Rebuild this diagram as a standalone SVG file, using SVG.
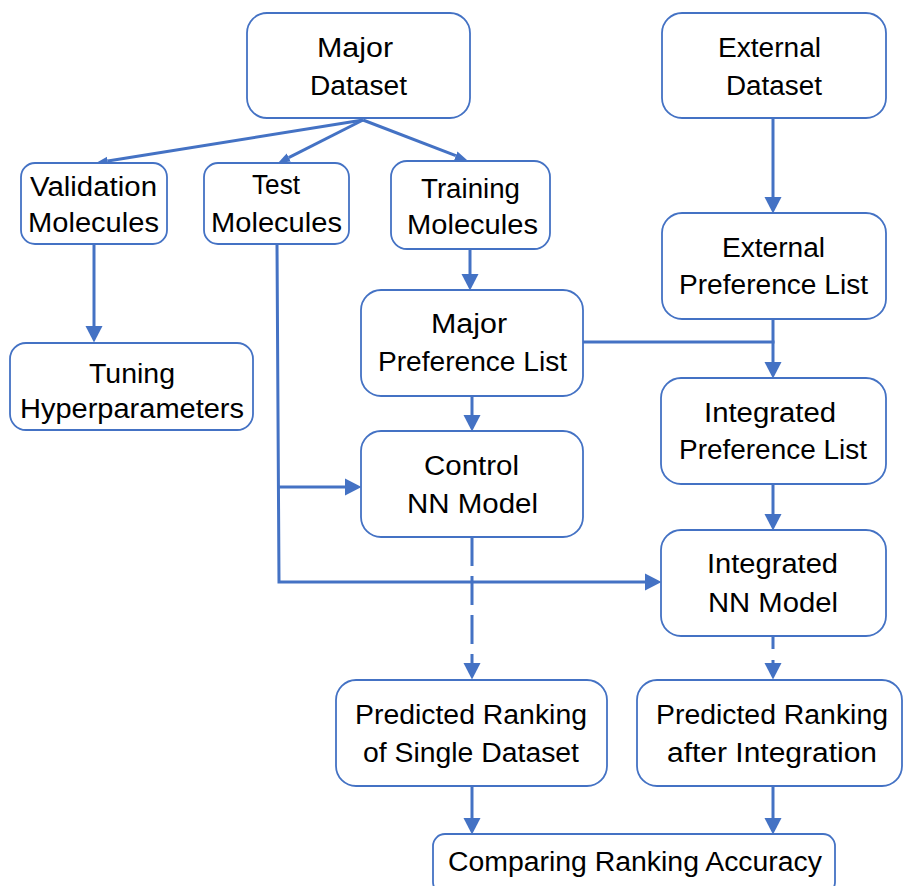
<svg xmlns="http://www.w3.org/2000/svg" width="904" height="886" viewBox="0 0 904 886">
  <style>
    .box { fill: #ffffff; stroke: #4472C4; stroke-width: 1.8; }
    .lbl { font-family: "Liberation Sans", Arial, sans-serif; font-size: 27px; fill: #000000; text-anchor: middle; }
    .wire { fill: none; stroke: #4472C4; stroke-width: 3; }
    .dash1 { stroke-dasharray: 29 10; }
    .dash2 { stroke-dasharray: 13 11; }
  </style>
  <defs>
    <marker id="arrow" markerUnits="userSpaceOnUse" markerWidth="18" markerHeight="20" viewBox="0 -10 18 20" refX="0" refY="0" orient="auto">
      <path d="M0,-8.5 L16.5,0 L0,8.5 Z" fill="#4472C4"/>
    </marker>
    <marker id="arrowSmall" markerUnits="userSpaceOnUse" markerWidth="14" markerHeight="12" viewBox="0 -6 14 12" refX="0" refY="0" orient="auto">
      <path d="M0,-4.5 L12,0 L0,4.5 Z" fill="#4472C4"/>
    </marker>
  </defs>

  <rect width="904" height="886" fill="#ffffff"/>

  <!-- connectors -->
  <g id="connectors">
    <!-- split of the major dataset -->
    <line class="wire" x1="363" y1="120" x2="107.8" y2="161.1" marker-end="url(#arrowSmall)"/>
    <line class="wire" x1="363" y1="120" x2="288.7" y2="157.6" marker-end="url(#arrowSmall)"/>
    <line class="wire" x1="363" y1="120" x2="455.8" y2="155.7" marker-end="url(#arrowSmall)"/>

    <line class="wire" x1="94" y1="244" x2="94" y2="326" marker-end="url(#arrow)"/>
    <line class="wire" x1="470" y1="249" x2="470" y2="274" marker-end="url(#arrow)"/>
    <line class="wire" x1="472" y1="396" x2="472" y2="415" marker-end="url(#arrow)"/>

    <line class="wire" x1="773" y1="118" x2="773" y2="197" marker-end="url(#arrow)"/>
    <line class="wire" x1="773" y1="319" x2="773" y2="362" marker-end="url(#arrow)"/>
    <line class="wire" x1="583" y1="342" x2="774.5" y2="342"/>
    <line class="wire" x1="773" y1="484" x2="773" y2="514" marker-end="url(#arrow)"/>

    <!-- test molecules feed both models -->
    <polyline class="wire" points="277,244 279,582 645,582" marker-end="url(#arrow)"/>
    <line class="wire" x1="278" y1="487" x2="345" y2="487" marker-end="url(#arrow)"/>

    <!-- predictions -->
    <line class="wire dash1" x1="472" y1="537" x2="472" y2="663" marker-end="url(#arrow)"/>
    <line class="wire dash2" x1="773" y1="636" x2="773" y2="663" marker-end="url(#arrow)"/>

    <line class="wire" x1="472" y1="786" x2="472" y2="818" marker-end="url(#arrow)"/>
    <line class="wire" x1="773" y1="786" x2="773" y2="818" marker-end="url(#arrow)"/>
  </g>

  <!-- nodes -->
  <g id="major-dataset">
    <rect class="box" x="247" y="13" width="223" height="105" rx="20"/>
    <text class="lbl" x="355" y="57" textLength="76" lengthAdjust="spacingAndGlyphs">Major</text>
    <text class="lbl" x="358.5" y="95" textLength="97" lengthAdjust="spacingAndGlyphs">Dataset</text>
  </g>

  <g id="external-dataset">
    <rect class="box" x="662" y="13" width="224" height="105" rx="20"/>
    <text class="lbl" x="769.5" y="57" textLength="103" lengthAdjust="spacingAndGlyphs">External</text>
    <text class="lbl" x="774" y="95" textLength="96" lengthAdjust="spacingAndGlyphs">Dataset</text>
  </g>

  <g id="validation-molecules">
    <rect class="box" x="21" y="163" width="146" height="81" rx="14"/>
    <text class="lbl" x="93.5" y="196" textLength="127" lengthAdjust="spacingAndGlyphs">Validation</text>
    <text class="lbl" x="93.5" y="232" textLength="131" lengthAdjust="spacingAndGlyphs">Molecules</text>
  </g>

  <g id="test-molecules">
    <rect class="box" x="204" y="163" width="145" height="81" rx="14"/>
    <text class="lbl" x="276" y="194" textLength="48" lengthAdjust="spacingAndGlyphs">Test</text>
    <text class="lbl" x="276.5" y="232" textLength="131" lengthAdjust="spacingAndGlyphs">Molecules</text>
  </g>

  <g id="training-molecules">
    <rect class="box" x="391" y="161" width="159" height="88" rx="16"/>
    <text class="lbl" x="470.5" y="198" textLength="99" lengthAdjust="spacingAndGlyphs">Training</text>
    <text class="lbl" x="472.5" y="234" textLength="131" lengthAdjust="spacingAndGlyphs">Molecules</text>
  </g>

  <g id="external-preference-list">
    <rect class="box" x="662" y="213" width="224" height="106" rx="20"/>
    <text class="lbl" x="773.5" y="257" textLength="103" lengthAdjust="spacingAndGlyphs">External</text>
    <text class="lbl" x="773.5" y="294" textLength="189" lengthAdjust="spacingAndGlyphs">Preference List</text>
  </g>

  <g id="major-preference-list">
    <rect class="box" x="361" y="290" width="222" height="106" rx="20"/>
    <text class="lbl" x="469" y="333" textLength="76" lengthAdjust="spacingAndGlyphs">Major</text>
    <text class="lbl" x="472.5" y="371" textLength="189" lengthAdjust="spacingAndGlyphs">Preference List</text>
  </g>

  <g id="tuning-hyperparameters">
    <rect class="box" x="10" y="343" width="243" height="87" rx="16"/>
    <text class="lbl" x="132" y="383" textLength="86" lengthAdjust="spacingAndGlyphs">Tuning</text>
    <text class="lbl" x="132" y="418" textLength="224" lengthAdjust="spacingAndGlyphs">Hyperparameters</text>
  </g>

  <g id="integrated-preference-list">
    <rect class="box" x="661" y="378" width="225" height="106" rx="20"/>
    <text class="lbl" x="770" y="422" textLength="132" lengthAdjust="spacingAndGlyphs">Integrated</text>
    <text class="lbl" x="773" y="459" textLength="188" lengthAdjust="spacingAndGlyphs">Preference List</text>
  </g>

  <g id="control-nn-model">
    <rect class="box" x="361" y="431" width="222" height="106" rx="20"/>
    <text class="lbl" x="471.5" y="475" textLength="95" lengthAdjust="spacingAndGlyphs">Control</text>
    <text class="lbl" x="472.5" y="513" textLength="131" lengthAdjust="spacingAndGlyphs">NN Model</text>
  </g>

  <g id="integrated-nn-model">
    <rect class="box" x="661" y="530" width="225" height="106" rx="20"/>
    <text class="lbl" x="772.5" y="573" textLength="131" lengthAdjust="spacingAndGlyphs">Integrated</text>
    <text class="lbl" x="773" y="612" textLength="130" lengthAdjust="spacingAndGlyphs">NN Model</text>
  </g>

  <g id="predicted-single">
    <rect class="box" x="336" y="680" width="271" height="106" rx="20"/>
    <text class="lbl" x="471" y="724" textLength="232" lengthAdjust="spacingAndGlyphs">Predicted Ranking</text>
    <text class="lbl" x="471" y="762" textLength="216" lengthAdjust="spacingAndGlyphs">of Single Dataset</text>
  </g>

  <g id="predicted-integrated">
    <rect class="box" x="637" y="680" width="265" height="106" rx="20"/>
    <text class="lbl" x="772" y="724" textLength="232" lengthAdjust="spacingAndGlyphs">Predicted Ranking</text>
    <text class="lbl" x="772" y="762" textLength="210" lengthAdjust="spacingAndGlyphs">after Integration</text>
  </g>

  <g id="comparing-accuracy">
    <rect class="box" x="433" y="834" width="402" height="60" rx="12"/>
    <text class="lbl" x="635" y="871" textLength="374" lengthAdjust="spacingAndGlyphs">Comparing Ranking Accuracy</text>
  </g>
</svg>
